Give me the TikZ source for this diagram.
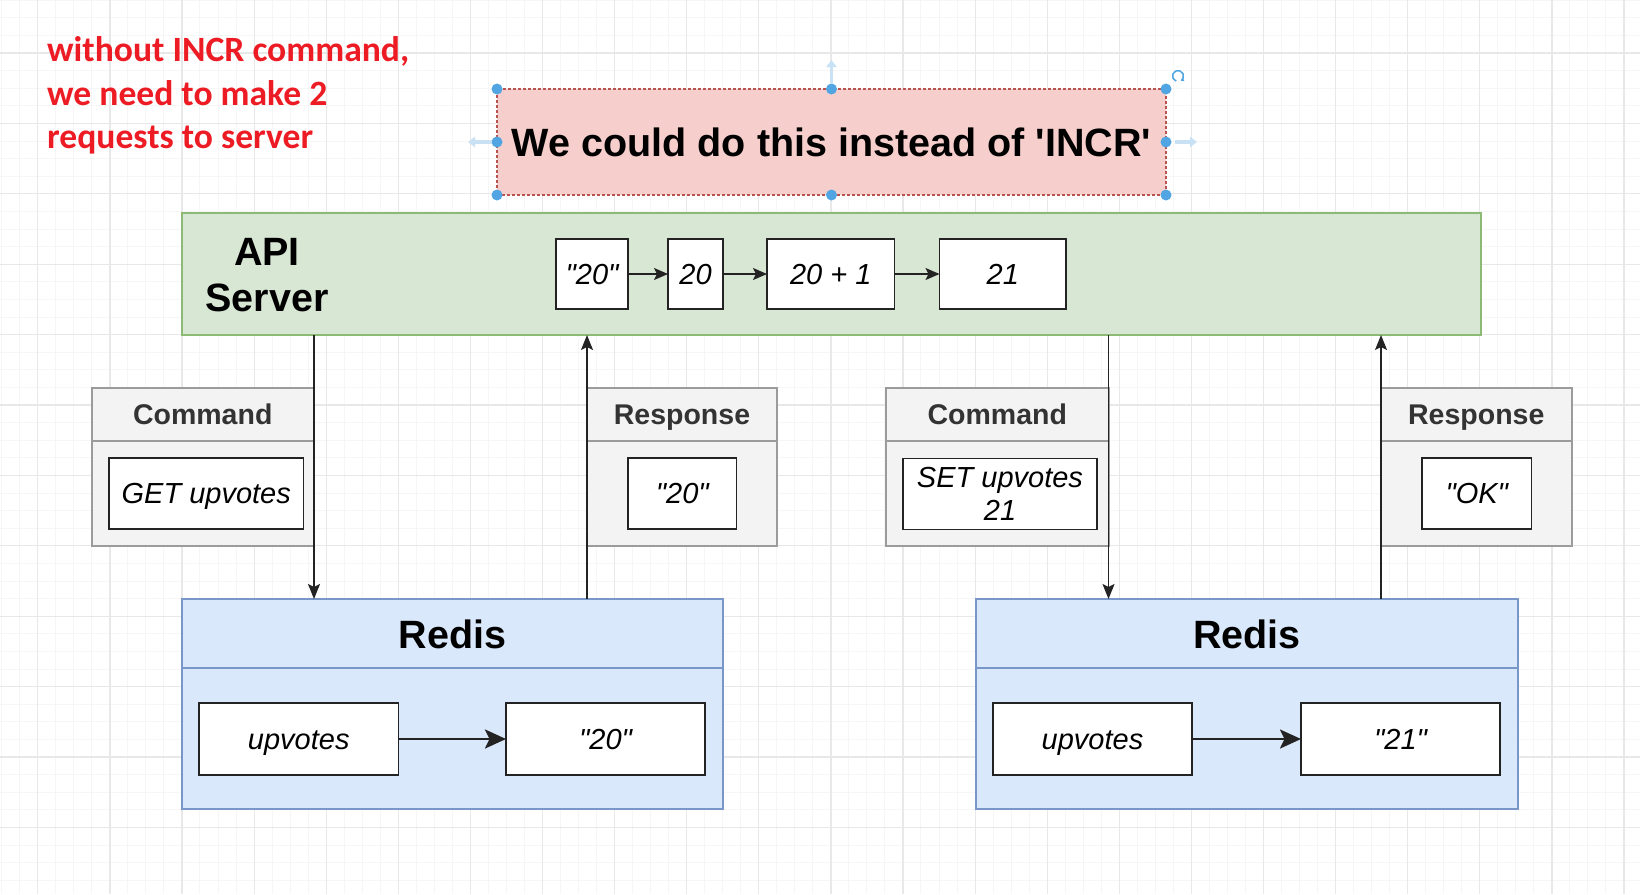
\documentclass[tikz,border=0pt]{standalone}
\usepackage{fontspec}
\setmainfont{Liberation Sans}[Ligatures=TeXOff]
\newfontfamily\redfont{Carlito}
\usetikzlibrary{arrows.meta,calc}

\definecolor{pinkfill}{RGB}{246,206,204}
\definecolor{pinkline}{RGB}{184,84,80}
\definecolor{greenfill}{RGB}{216,231,212}
\definecolor{greenline}{RGB}{140,185,115}
\definecolor{bluefill}{RGB}{218,232,251}
\definecolor{blueline}{RGB}{120,150,200}
\definecolor{grayfill}{RGB}{243,243,243}
\definecolor{grayline}{RGB}{155,155,155}
\definecolor{darkline}{RGB}{35,35,35}
\definecolor{handle}{RGB}{80,165,226}
\definecolor{handlefaint}{RGB}{200,225,245}
\definecolor{redtext}{RGB}{237,28,36}
\definecolor{gridminor}{RGB}{246,246,246}
\definecolor{gridmajor}{RGB}{232,232,232}
\definecolor{hdrtext}{RGB}{51,51,51}

\begin{document}
\begin{tikzpicture}[x=1pt,y=-1pt,
  panel/.style={draw, rectangle, inner sep=0pt, outer sep=0pt, line width=2pt},
  valbox/.style={panel, draw=darkline, fill=white, line width=1.8pt, align=center,
    font=\fontsize{29}{33.5}\selectfont\itshape},
  valone/.style={valbox, text height=20.8pt, text depth=0pt},
  graypanel/.style={panel, draw=grayline, fill=grayfill, minimum width=222.5pt, minimum height=158pt},
  bluepanel/.style={panel, draw=blueline, fill=bluefill, minimum height=210pt},
  hdr/.style={font=\fontsize{28.5}{33}\selectfont\bfseries, text=hdrtext, inner sep=0pt, anchor=base},
  big/.style={font=\fontsize{39.5}{46}\selectfont\bfseries, inner sep=0pt},
  note/.style={anchor=base west, inner sep=0pt, text=redtext, font=\redfont\bfseries\fontsize{35.6}{43}\selectfont},
  conn/.style={line width=1.5pt, draw=darkline, -{Stealth[length=15pt,width=12pt,inset=3pt]}},
  sconn/.style={line width=1.6pt, draw=darkline, -{Stealth[length=14pt,width=12pt,inset=3pt]}},
  bconn/.style={line width=2.6pt, draw=darkline, -{Stealth[length=21pt,width=19pt,inset=4.5pt]}},
  faint/.style={line width=3.5pt, draw=handlefaint, -{Triangle[length=7pt,width=10pt]}}
]
\useasboundingbox (0,0) rectangle (1640,894);
\fill[white] (0,0) rectangle (1640,894);

% grid
\foreach \i in {0,...,90} {
  \draw[gridminor, line width=1pt] ({1.7+\i*18.025},0) -- ({1.7+\i*18.025},894);
}
\foreach \j in {0,...,50} {
  \draw[gridminor, line width=1pt] (0,{0.2+\j*17.6}) -- (1640,{0.2+\j*17.6});
}
\foreach \k in {-2,...,20} {
  \draw[gridmajor, line width=1.2pt] ({182+\k*72.1},0) -- ({182+\k*72.1},894);
}
\foreach \k in {0,...,11} {
  \draw[gridmajor, line width=1.2pt] (0,{53+\k*70.4}) -- (1640,{53+\k*70.4});
}

% red note
\node[note] (note1) at (47,61) {without INCR command,};
\node[note] (note2) at (47,105) {we need to make 2};
\node[note] (note3) at (47,148) {requests to server};

% pink box with selection handles
\node[panel, draw=pinkline, fill=pinkfill, line width=1.2pt, dash pattern=on 3pt off 2pt,
  minimum width=669pt, minimum height=106pt] (pink) at (831.5,142) {};
\node[big] (pinktext) at (pink.center) {We could do this instead of 'INCR'};
\foreach \p in {north west,north,north east,west,east,south west,south,south east}
  \fill[handle] (pink.\p) circle (5.5);
\coordinate (ftop) at ($(pink.north)+(0,-5)$);
\draw[faint] (ftop) -- ++(0,-24);
\coordinate (fleft) at ($(pink.west)+(-5,0)$);
\draw[faint] (fleft) -- ++(-24,0);
\coordinate (fright) at ($(pink.east)+(9,0)$);
\draw[faint] (fright) -- ++(22,0);
\coordinate (rot) at ($(pink.north east)+(12,-13)$);
\draw[handle, line width=1.5pt, -{Triangle[length=3pt,width=4pt]}]
  ($(rot)+(110:5.5)$) arc[start angle=110, end angle=420, radius=5.5];

% API server
\node[panel, draw=greenline, fill=greenfill, minimum width=1299pt, minimum height=122pt] (green) at (831.5,274) {};
\node[big, align=center] (api) at (267,275) {API\\Server};
\node[valone, minimum width=72pt, minimum height=70pt] (q20) at (592,274) {"20"};
\node[valone, minimum width=55pt, minimum height=70pt] (n20) at (695.5,274) {20};
\node[valone, minimum width=127.5pt, minimum height=70pt] (n20p1) at (830.75,274) {20 + 1};
\node[valone, minimum width=126.5pt, minimum height=70pt] (n21) at (1002.75,274) {21};
\draw[sconn] (q20) -- (n20);
\draw[sconn] (n20) -- (n20p1);
\draw[sconn] (n20p1) -- (n21);

% command / response panels
\node[graypanel] (cmd1) at (202.75,467) {};
\draw[grayline, line width=2pt] (cmd1.west |- 0,440.5) -- (cmd1.east |- 0,440.5);
\node[hdr] (cmd1h) at (cmd1.north |- 0,424.5) {Command};
\node[valone, minimum width=194.5pt, minimum height=71pt] (getv) at (206.25,493.5) {GET upvotes};

\node[graypanel, minimum width=190pt] (resp1) at (682,467) {};
\draw[grayline, line width=2pt] (resp1.west |- 0,440.5) -- (resp1.east |- 0,440.5);
\node[hdr] (resp1h) at (resp1.north |- 0,424.5) {Response};
\node[valone, minimum width=108.5pt, minimum height=71pt] (r20) at (682.25,493.5) {"20"};

\node[graypanel] (cmd2) at (997.25,467) {};
\draw[grayline, line width=2pt] (cmd2.west |- 0,440.5) -- (cmd2.east |- 0,440.5);
\node[hdr] (cmd2h) at (cmd2.north |- 0,424.5) {Command};
\node[valbox, minimum width=194pt, minimum height=71pt] (setv) at (1000,494) {SET upvotes\\21};

\node[graypanel, minimum width=190.5pt] (resp2) at (1476.25,467) {};
\draw[grayline, line width=2pt] (resp2.west |- 0,440.5) -- (resp2.east |- 0,440.5);
\node[hdr] (resp2h) at (resp2.north |- 0,424.5) {Response};
\node[valone, minimum width=109.5pt, minimum height=71pt] (rok) at (1476.75,493.5) {"OK"};

% redis panels
\node[bluepanel, minimum width=541pt] (redis1) at (452.5,704) {};
\draw[blueline, line width=2pt] (redis1.west |- 0,668) -- (redis1.east |- 0,668);
\node[big] (redis1h) at ($(redis1.north)+(0,35.5)$) {Redis};
\node[valone, minimum width=199.5pt, minimum height=72pt] (up1) at (298.75,739) {upvotes};
\node[valone, minimum width=199pt, minimum height=72pt] (v20) at (605.5,739) {"20"};
\draw[bconn] (up1) -- (v20);

\node[bluepanel, minimum width=542pt] (redis2) at (1247,704) {};
\draw[blueline, line width=2pt] (redis2.west |- 0,668) -- (redis2.east |- 0,668);
\node[big] (redis2h) at ($(redis2.north)+(0,35.5)$) {Redis};
\node[valone, minimum width=199pt, minimum height=72pt] (up2) at (1092.5,739) {upvotes};
\node[valone, minimum width=199pt, minimum height=72pt] (v21) at (1400.5,739) {"21"};
\draw[bconn] (up2) -- (v21);

% connectors between server and redis
\draw[conn] (cmd1.east |- green.south) -- (cmd1.east |- redis1.north);
\draw[conn] (resp1.west |- redis1.north) -- (resp1.west |- green.south);
\draw[conn] (cmd2.east |- green.south) -- (cmd2.east |- redis2.north);
\draw[conn] (resp2.west |- redis2.north) -- (resp2.west |- green.south);
\end{tikzpicture}
\end{document}
